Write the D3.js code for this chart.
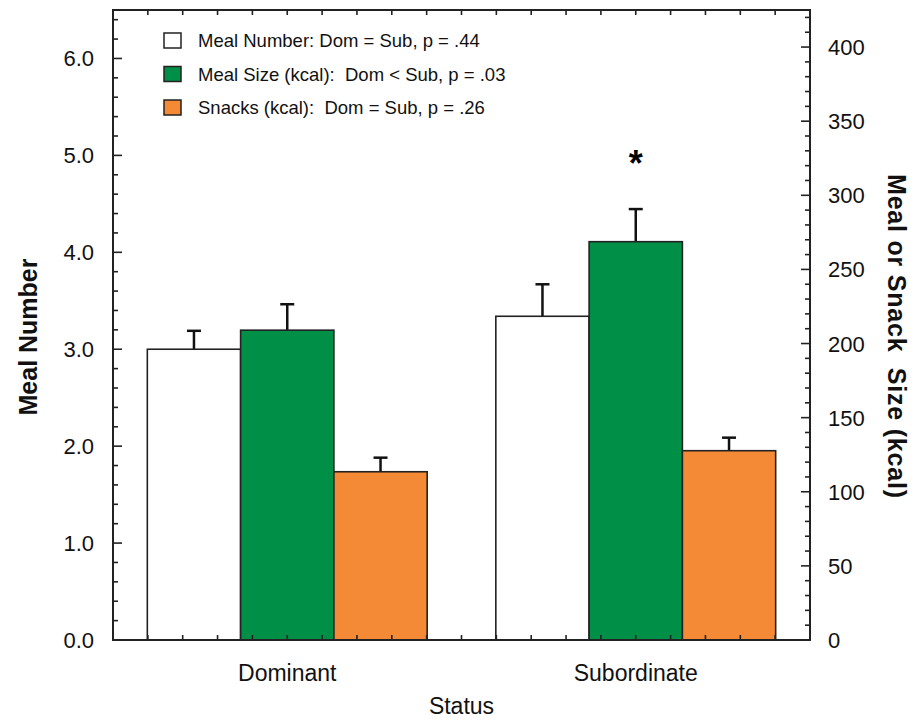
<!DOCTYPE html>
<html><head><meta charset="utf-8">
<script src="https://cdn.jsdelivr.net/npm/d3@7"></script>
<style>body{margin:0;background:#fff}svg text{font-family:Arial,"Liberation Sans",sans-serif}</style>
</head><body><svg id="c" width="922" height="720"></svg>
<script>
const categories = ["Dominant", "Subordinate"];
const seriesNames = ["Meal Number", "Meal Size (kcal)", "Snacks (kcal)"];
const legendLabels = ["Meal Number: Dom = Sub, p = .44", "Meal Size (kcal):  Dom < Sub, p = .03", "Snacks (kcal):  Dom = Sub, p = .26"];
const mealNumber = [3.0, 3.34];
const mealNumberErr = [0.19, 0.33];
const mealSize = [209, 268.7];
const mealSizeErr = [17.5, 22];
const snacks = [113.5, 127.7];
const snacksErr = [9.5, 8.8];
const leftTicks = [0, 1, 2, 3, 4, 5, 6];
const rightTicks = [0, 50, 100, 150, 200, 250, 300, 350, 400];
const colors = ["#ffffff", "#008f47", "#f48a36"];

const svg = d3.select("#c");
const L = 113, R = 810, T = 10, B = 640;
const yL = d3.scaleLinear().domain([0, 6.5]).range([B, T]);
const yR = d3.scaleLinear().domain([0, 425]).range([B, T]);
const x0 = d3.scaleBand().domain(categories).range([L, R]).paddingInner(0.197).paddingOuter(0.0985);
const x1 = d3.scaleBand().domain(seriesNames).range([0, x0.bandwidth()]);

const series = [
  {name: seriesNames[0], vals: mealNumber, errs: mealNumberErr, y: yL, color: colors[0]},
  {name: seriesNames[1], vals: mealSize, errs: mealSizeErr, y: yR, color: colors[1]},
  {name: seriesNames[2], vals: snacks, errs: snacksErr, y: yR, color: colors[2]}
];

// error bars
series.forEach(s => {
  categories.forEach((c, i) => {
    const bx = x0(c) + x1(s.name), w = x1.bandwidth();
    const top = s.y(s.vals[i]), et = s.y(s.vals[i] + s.errs[i]);
    const cx = bx + w / 2;
    svg.append("line").attr("x1", cx).attr("x2", cx).attr("y1", top).attr("y2", et).attr("stroke", "#111").attr("stroke-width", 2.5);
    svg.append("line").attr("x1", cx - 7).attr("x2", cx + 7).attr("y1", et).attr("y2", et).attr("stroke", "#111").attr("stroke-width", 2.5);
  });
});
// bars
series.forEach(s => {
  svg.append("g").selectAll("rect").data(categories).join("rect")
    .attr("x", c => x0(c) + x1(s.name)).attr("width", x1.bandwidth())
    .attr("y", (c, i) => s.y(s.vals[i])).attr("height", (c, i) => B - s.y(s.vals[i]))
    .attr("fill", s.color).attr("stroke", "#222").attr("stroke-width", 1.6);
});

// asterisk
svg.append("text").attr("x", x0("Subordinate") + x1(seriesNames[1]) + x1.bandwidth() / 2).attr("y", 176)
  .attr("text-anchor", "middle").attr("font-size", 36).attr("font-weight", "bold").text("*");

// frame
svg.append("rect").attr("x", L).attr("y", T).attr("width", R - L).attr("height", B - T)
  .attr("fill", "none").attr("stroke", "#222").attr("stroke-width", 2);

// left axis ticks (inward)
const lMinor = d3.range(0, 6.5001, 0.2);
svg.append("g").selectAll("line").data(lMinor).join("line")
  .attr("x1", L).attr("x2", d => L + (Math.abs(d - Math.round(d)) < 1e-6 ? 9 : 5))
  .attr("y1", d => yL(d)).attr("y2", d => yL(d)).attr("stroke", "#222").attr("stroke-width", 1.6);
svg.append("g").selectAll("text").data(leftTicks).join("text")
  .attr("x", 94).attr("y", d => yL(d) + 8).attr("text-anchor", "end").attr("font-size", 22).attr("fill", "#111")
  .text(d => d3.format(".1f")(d));

// right axis ticks (inward)
const rMinor = d3.range(0, 425.001, 10);
svg.append("g").selectAll("line").data(rMinor).join("line")
  .attr("x1", R).attr("x2", d => R - (d % 50 === 0 ? 9 : 5))
  .attr("y1", d => yR(d)).attr("y2", d => yR(d)).attr("stroke", "#222").attr("stroke-width", 1.6);
svg.append("g").selectAll("text").data(rightTicks).join("text")
  .attr("x", 828).attr("y", d => yR(d) + 8).attr("text-anchor", "start").attr("font-size", 22).attr("fill", "#111")
  .text(d => d);

// top and bottom ticks
const xt = d3.scaleLinear().domain([0, 20]).range([L, R]);
const xTicks = d3.range(1, 20);
svg.append("g").selectAll("line").data(xTicks).join("line")
  .attr("x1", d => xt(d)).attr("x2", d => xt(d)).attr("y1", B).attr("y2", B - 5).attr("stroke", "#222").attr("stroke-width", 1.6);
svg.append("g").selectAll("line").data(xTicks).join("line")
  .attr("x1", d => xt(d)).attr("x2", d => xt(d)).attr("y1", T).attr("y2", T + 5).attr("stroke", "#222").attr("stroke-width", 1.6);

// category labels
svg.append("g").selectAll("text").data(categories).join("text")
  .attr("x", c => x0(c) + x0.bandwidth() / 2).attr("y", 681).attr("text-anchor", "middle")
  .attr("font-size", 23).attr("fill", "#111").text(c => c);

// axis titles
svg.append("text").attr("x", (L + R) / 2).attr("y", 714).attr("text-anchor", "middle")
  .attr("font-size", 23).attr("fill", "#111").text("Status");
svg.append("text").attr("transform", "translate(37,337) rotate(-90)").attr("text-anchor", "middle")
  .attr("font-size", 25).attr("font-weight", "bold").attr("fill", "#111").text("Meal Number");
svg.append("text").attr("transform", "translate(888,336) rotate(90)").attr("text-anchor", "middle")
  .attr("font-size", 25).attr("font-weight", "bold").attr("fill", "#111")
  .attr("textLength", 324).attr("lengthAdjust", "spacing")
  .attr("xml:space", "preserve").style("white-space", "pre").text("Meal or Snack  Size (kcal)");

// legend
const lg = svg.append("g").selectAll("g").data(legendLabels).join("g")
  .attr("transform", (d, i) => `translate(164,${40 + i * 33.5})`);
lg.append("rect").attr("x", 0).attr("y", -7).attr("width", 17).attr("height", 15)
  .attr("fill", (d, i) => colors[i]).attr("stroke", "#222").attr("stroke-width", 1.5);
lg.append("text").attr("x", 34).attr("y", 7).attr("font-size", 18.5).attr("fill", "#111")
  .style("white-space", "pre").attr("xml:space", "preserve").text(d => d);
</script></body></html>
